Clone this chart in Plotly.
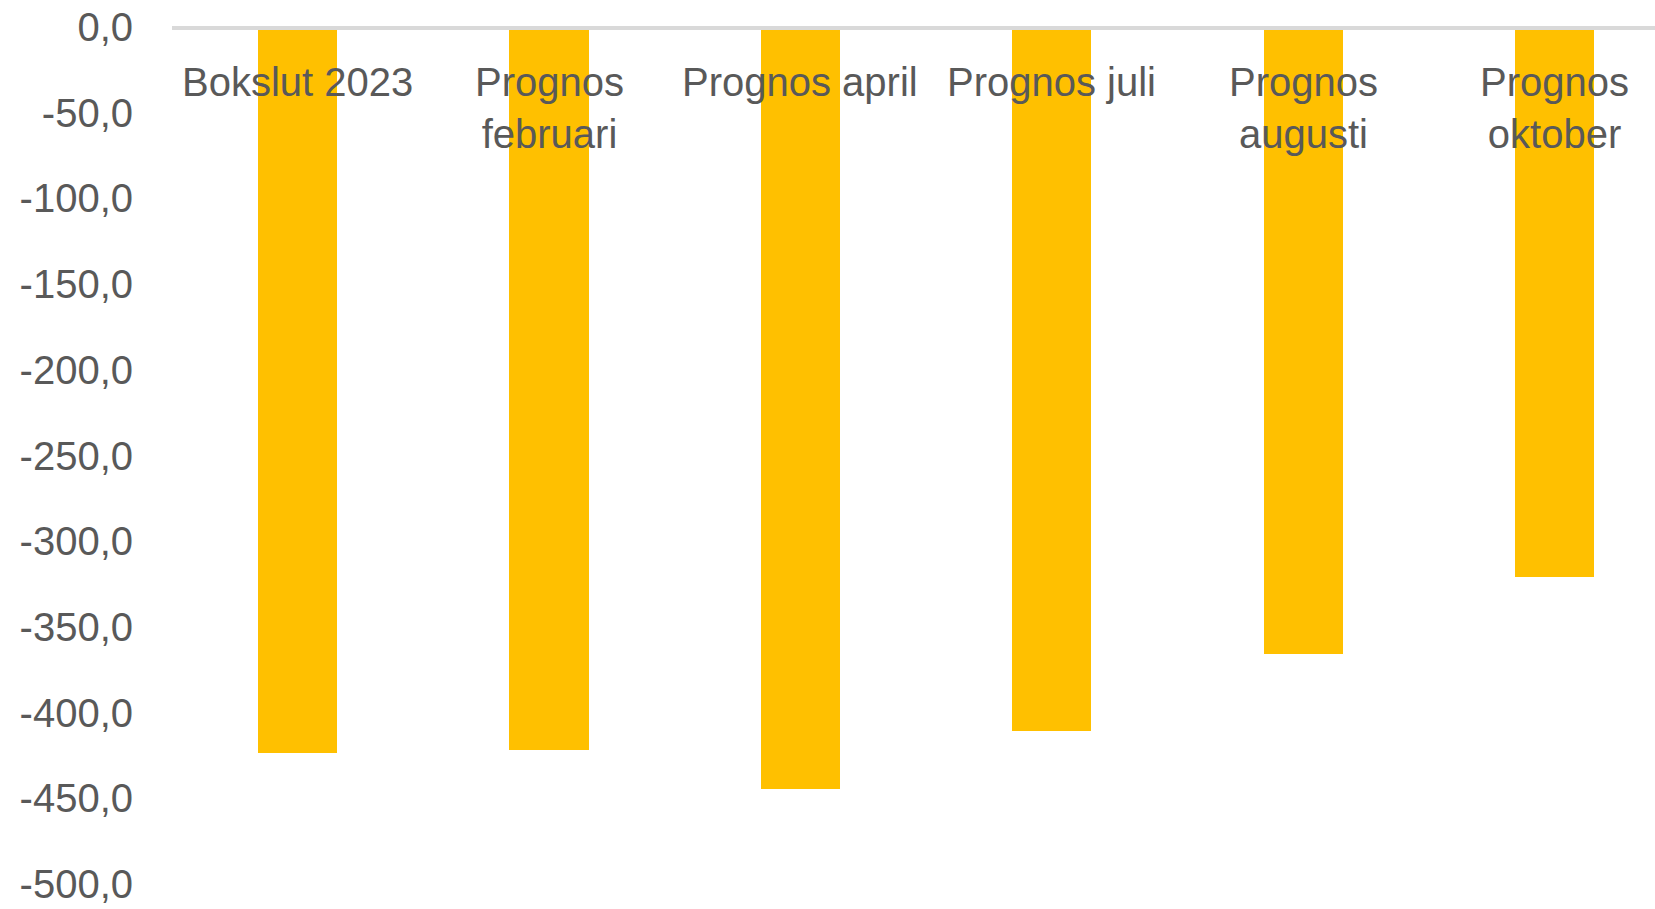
import plotly.graph_objects as go

categories = ["Bokslut 2023", "Prognos<br>februari", "Prognos april", "Prognos juli",
              "Prognos<br>augusti", "Prognos<br>oktober"]
values = [-422.0, -420.0, -443.0, -409.0, -364.0, -319.0]

y_tickvals = [0, -50, -100, -150, -200, -250, -300, -350, -400, -450, -500]
y_ticktext = ["0,0", "-50,0", "-100,0", "-150,0", "-200,0", "-250,0",
              "-300,0", "-350,0", "-400,0", "-450,0", "-500,0"]

GOLD = "#FFC000"
TEXT = "#595959"
FONT = "Liberation Sans, Arial, sans-serif"

xs = list(range(len(categories)))

fig = go.Figure(
    go.Bar(
        x=xs,
        y=values,
        width=0.315,
        marker=dict(color=GOLD, line=dict(width=0)),
        hovertemplate="%{y:.1f}<extra></extra>",
    )
)

# category labels sit just under the zero line, like Excel does for negative bars
for x, label in zip(xs, categories):
    fig.add_annotation(
        x=x, y=0, xref="x", yref="y",
        text=label, showarrow=False,
        yanchor="top", yshift=-28,
        font=dict(family=FONT, size=40, color=TEXT),
    )

fig.update_layout(
    width=1655,
    height=909,
    margin=dict(l=172, r=0, t=30, b=21),
    paper_bgcolor="white",
    plot_bgcolor="white",
    font=dict(family=FONT, size=40, color=TEXT),
    showlegend=False,
    bargap=0,
)
fig.update_xaxes(
    side="top",
    range=[-0.5, 5.4],
    showticklabels=False,
    ticks="",
    showgrid=False,
    zeroline=False,
    showline=True,
    linecolor="#D9D9D9",
    linewidth=4,
)
fig.update_yaxes(
    range=[-500.5, 0],
    tickvals=y_tickvals,
    ticktext=y_ticktext,
    ticks="",
    ticklabelstandoff=38,
    ticklabelshift=-3,
    ticklabeloverflow="allow",
    showgrid=False,
    zeroline=False,
    showline=False,
    tickfont=dict(family=FONT, size=40, color=TEXT),
)

fig.write_html(
    "out.html",
    config={"displayModeBar": False},
    post_script="document.body.style.margin='0';document.body.style.overflow='hidden';",
)
